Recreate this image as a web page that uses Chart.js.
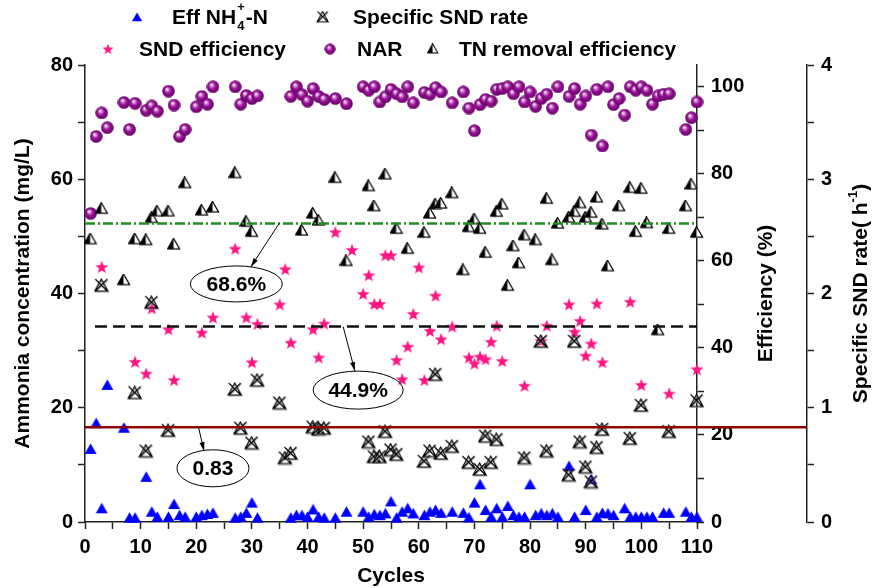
<!DOCTYPE html>
<html lang="en">
<head>
<meta charset="UTF-8">
<title>SND performance over cycles</title>
<script src="https://cdn.jsdelivr.net/npm/chart.js"></script>
<style>
    html, body { margin: 0; padding: 0; background: #fff; }
    #wrap { width: 872px; height: 588px; }
</style>
</head>
<body>
<div id="wrap"><canvas id="sndChart" width="872" height="588"></canvas></div>
<script>
// Eff NH4+-N (mg/L) - left axis
const nh4Cycles = [1,2,3,4,7,8,9,11,12,13,15,16,17,18,20,21,22,23,27,28,29,30,31,37,38,39,40,41,42,43,45,47,50,51,52,53,54,55,56,57,58,59,61,62,63,64,66,68,69,70,71,72,73,74,75,76,77,78,79,80,81,82,83,84,85,87,88,90,91,92,93,94,95,97,98,99,100,101,102,104,105,108,109,110];
const nh4Values = [12.8,17.3,2.4,24.0,16.5,0.75,0.75,7.9,1.8,0.9,0.9,3.15,1.2,0.9,0.9,1.2,1.4,1.6,0.75,0.9,1.6,3.4,0.75,0.75,1.2,1.2,0.9,2.2,0.9,0.75,0.75,1.8,1.8,0.9,1.35,1.2,1.5,3.6,0.75,1.8,2.4,1.5,1.2,1.8,2.1,1.6,1.8,1.6,0.8,3.4,6.6,2.1,0.9,2.4,0.9,2.8,1.2,0.9,0.9,6.6,1.2,1.5,1.2,1.5,0.9,9.8,0.9,2.1,7.5,0.9,1.6,1.5,1.2,2.4,0.9,0.9,0.9,0.9,0.9,1.6,1.6,1.8,0.9,0.9];

// Specific SND rate (h-1) - outer right axis
const rateCycles = [3,9,11,12,15,27,28,30,31,35,36,37,41,42,43,51,52,53,54,55,56,61,62,63,64,66,69,71,72,73,74,79,82,83,87,88,89,90,91,92,93,98,100,105,110];
const rateValues = [2.07,1.13,0.62,1.92,0.80,1.16,0.82,0.69,1.24,1.04,0.56,0.60,0.83,0.81,0.82,0.70,0.57,0.57,0.79,0.63,0.59,0.53,0.62,1.29,0.60,0.66,0.52,0.46,0.75,0.52,0.72,0.56,1.58,0.62,0.41,1.58,0.70,0.48,0.35,0.65,0.81,0.73,1.02,0.79,1.06];

// SND efficiency (%)
const sndCycles = [3,9,11,12,15,16,21,23,27,29,30,31,35,36,37,41,42,43,45,48,50,51,52,53,54,55,56,57,58,59,60,61,62,63,64,66,69,70,71,72,73,74,75,79,82,83,87,88,89,90,91,92,93,98,100,105,110];
const sndValues = [58.6,36.8,34.1,49.1,44.3,32.6,43.5,47.0,62.8,47.0,36.7,45.5,50.0,58.1,41.2,44.3,37.8,45.6,66.6,62.5,52.4,56.7,50.1,50.1,61.3,61.3,37.2,32.8,40.3,47.8,58.5,32.6,43.9,52.0,42.0,44.9,37.8,36.4,38.0,37.4,41.4,45.1,37.0,31.3,41.6,45.1,50.0,43.7,46.2,38.2,41.0,50.2,36.7,50.6,31.5,29.5,35.1];

// NAR (%)
const narCycles = [1,2,3,4,7,8,9,11,12,13,15,16,17,18,20,21,22,23,27,28,29,30,31,37,38,39,40,41,42,43,45,47,50,51,52,53,54,55,56,57,58,59,61,62,63,64,66,68,69,70,71,72,73,74,75,76,77,78,79,80,81,82,83,84,85,87,88,89,90,91,92,93,94,95,96,97,98,99,100,101,102,103,104,105,108,109,110];
const narValues = [70.9,88.6,94.0,90.6,96.4,90.2,96.2,94.6,95.6,94.4,99.0,95.8,88.6,90.2,95.4,97.8,96.0,100,100,96.0,98.0,97.3,97.9,97.8,100,98.2,96.7,99.6,97.8,97.1,97.3,96.1,100,99.2,100,96.5,97.7,99.4,98.4,97.7,100,96.3,98.7,98.3,99.8,98.8,96.3,98.8,95.1,89.9,95.9,97.1,96.7,99.4,99.6,100,98.4,100,96.5,98.8,95.5,97.3,98.3,95.1,100,97.8,99.6,96.0,97.9,88.9,99.4,86.4,100,95.9,97.3,93.5,100,99.2,100,99.2,96.0,97.9,98.3,98.4,90.2,92.9,96.5];

// TN removal efficiency (%)
const tnCycles = [1,3,7,9,11,12,13,15,16,18,21,23,27,29,30,39,41,42,45,47,51,52,54,56,58,61,62,63,64,66,68,69,70,71,72,74,75,76,77,78,79,81,83,84,85,87,88,89,90,91,92,93,94,96,98,99,100,101,103,105,108,109,110];
const tnValues = [65.0,72.0,55.6,65.0,64.8,69.9,71.4,71.4,63.8,77.9,71.6,72.3,80.2,69.0,66.7,67.0,70.9,69.3,79.1,60.0,77.2,72.6,79.9,67.4,62.8,66.5,70.9,73.0,73.2,75.6,57.9,67.8,69.6,67.4,61.9,71.3,73.0,54.3,63.4,59.5,65.9,64.8,74.3,60.2,68.6,70.0,71.3,73.3,70.0,71.1,74.6,68.4,58.8,72.6,76.8,66.7,76.6,68.7,44.1,67.4,72.6,77.6,66.5];

// average lines
const avgTN = 68.6;    // %
const avgSND = 44.9;   // %
const avgRate = 0.83;  // h-1

// efficiency axis ticks (axis runs a bit past 100)
const effTicks = [0,10,20,30,40,50,60,70,80,90,100];

const FONT = '"Liberation Sans", Arial, sans-serif';
const bold = px => 'bold ' + px + 'px ' + FONT;
const pts = (xs, ys) => xs.map((c, i) => ({ x: c, y: ys[i] }));

function makeIcon(w, h, draw) {
    const c = document.createElement('canvas');
    c.width = w; c.height = h;
    draw(c.getContext('2d'));
    return c;
}

function triPath(g, ox, oy) {
    g.beginPath();
    g.moveTo(6.5 + ox, 0.5 + oy);
    g.lineTo(12.5 + ox, 11 + oy);
    g.lineTo(0.5 + ox, 11 + oy);
    g.closePath();
}

const blueTri = makeIcon(13, 12, g => {
    g.fillStyle = '#0000ff';
    triPath(g, 0, 0);
    g.fill();
});

const halfTri = makeIcon(14, 13, g => {
    g.fillStyle = '#9a9a9a';
    triPath(g, 1, 1); g.fill();
    g.fillStyle = '#fff';
    triPath(g, 0, 0); g.fill();
    g.fillStyle = '#000';
    g.beginPath(); g.moveTo(6.5, 0.5); g.lineTo(6.5, 11); g.lineTo(0.5, 11); g.closePath(); g.fill();
    g.strokeStyle = '#000'; g.lineWidth = 1.2;
    triPath(g, 0, 0); g.stroke();
});

const crossTri = makeIcon(16, 15, g => {
    const shape = (ox, oy) => {
        g.beginPath();
        g.moveTo(7.5 + ox, 1 + oy); g.lineTo(14 + ox, 13 + oy); g.lineTo(1 + ox, 13 + oy); g.closePath();
        g.moveTo(1.5 + ox, 1 + oy); g.lineTo(13.5 + ox, 13 + oy);
        g.moveTo(13.5 + ox, 1 + oy); g.lineTo(1.5 + ox, 13 + oy);
        g.stroke();
    };
    g.lineWidth = 1.1;
    g.strokeStyle = '#a8a8a8'; shape(0.8, 0.9);
    g.strokeStyle = '#000'; shape(0, 0);
});

const pinkStar = makeIcon(14, 14, g => {
    g.fillStyle = '#ff1482';
    g.beginPath();
    for (let i = 0; i < 10; i++) {
        const r = i % 2 ? 2.8 : 6.8;
        const a = -Math.PI / 2 + i * Math.PI / 5;
        const px = 7 + r * Math.cos(a), py = 7.6 + r * Math.sin(a);
        if (i) g.lineTo(px, py); else g.moveTo(px, py);
    }
    g.closePath();
    g.fill();
});

const purpleBall = makeIcon(13, 13, g => {
    const grad = g.createRadialGradient(4.8, 4.3, 0.2, 6.5, 6.5, 6.4);
    grad.addColorStop(0, '#ffffff');
    grad.addColorStop(0.22, '#d48ad4');
    grad.addColorStop(0.5, '#9a149a');
    grad.addColorStop(1, '#600060');
    g.fillStyle = grad;
    g.beginPath(); g.arc(6.5, 6.5, 6.3, 0, Math.PI * 2); g.fill();
});

function vText(g, txt, cx, cy) {
    g.save();
    g.translate(cx, cy);
    g.rotate(-Math.PI / 2);
    g.textAlign = 'center';
    g.textBaseline = 'middle';
    g.fillText(txt, 0, 0);
    g.restore();
}

function arrow(g, x0, y0, x1, y1) {
    const a = Math.atan2(y1 - y0, x1 - x0);
    g.beginPath(); g.moveTo(x0, y0); g.lineTo(x1, y1); g.stroke();
    g.beginPath();
    g.moveTo(x1, y1);
    g.lineTo(x1 - 9 * Math.cos(a) + 2.5 * Math.sin(a), y1 - 9 * Math.sin(a) - 2.5 * Math.cos(a));
    g.lineTo(x1 - 9 * Math.cos(a) - 2.5 * Math.sin(a), y1 - 9 * Math.sin(a) + 2.5 * Math.cos(a));
    g.closePath(); g.fill();
}

function bubble(g, cx, cy, rx, ry, txt) {
    g.beginPath(); g.ellipse(cx, cy, rx, ry, 0, 0, Math.PI * 2); g.stroke();
    g.font = bold(21); g.textAlign = 'center'; g.textBaseline = 'middle';
    g.fillText(txt, cx, cy + 1);
}

const overlay = {
    id: 'overlay',
    afterDatasetsDraw(chart) {
        const g = chart.ctx;
        const { x, y1, y2 } = chart.scales;
        g.save();
        // TN average (dash-dot green)
        g.strokeStyle = '#1f8f1f'; g.lineWidth = 2.5; g.setLineDash([10, 3, 2, 3]);
        let py = y1.getPixelForValue(avgTN);
        g.beginPath(); g.moveTo(x.getPixelForValue(0), py); g.lineTo(x.getPixelForValue(110), py); g.stroke();
        // SND average (dashed black)
        g.strokeStyle = '#111'; g.setLineDash([12, 6]);
        py = y1.getPixelForValue(avgSND);
        g.beginPath(); g.moveTo(x.getPixelForValue(1.8), py); g.lineTo(x.getPixelForValue(110), py); g.stroke();
        // rate average (solid dark red, running to the outer axis)
        g.strokeStyle = '#8b0000'; g.lineWidth = 2.5; g.setLineDash([]);
        py = y2.getPixelForValue(avgRate);
        g.beginPath(); g.moveTo(x.getPixelForValue(0), py); g.lineTo(y2.left, py); g.stroke();
        g.restore();
    },
    afterDraw(chart) {
        const g = chart.ctx;
        const { x, y, y1, y2 } = chart.scales;
        const area = chart.chartArea;
        g.save();
        g.fillStyle = '#000'; g.strokeStyle = '#000'; g.lineWidth = 1;

        // callouts
        arrow(g, x.getPixelForValue(34.9), y1.getPixelForValue(avgTN), x.getPixelForValue(29.8), y1.getPixelForValue(58.6));
        bubble(g, x.getPixelForValue(27.2), y1.getPixelForValue(54.7), 46, 18, avgTN + '%');
        arrow(g, x.getPixelForValue(46.4), y1.getPixelForValue(avgSND), x.getPixelForValue(48.5), y1.getPixelForValue(34.7));
        bubble(g, x.getPixelForValue(49.1), y1.getPixelForValue(30.3), 45, 19, avgSND + '%');
        arrow(g, x.getPixelForValue(20.4), y2.getPixelForValue(avgRate), x.getPixelForValue(21.4), y2.getPixelForValue(0.62));
        bubble(g, x.getPixelForValue(23.0), y2.getPixelForValue(0.47), 36, 18.5, String(avgRate));

        // axis titles
        const midY = (area.top + area.bottom) / 2;
        g.font = bold(21);
        vText(g, 'Ammonia concentration (mg/L)', 23, midY);
        vText(g, 'Efficiency (%)', 766, midY);
        g.textAlign = 'center'; g.textBaseline = 'middle';
        g.fillText('Cycles', (area.left + area.right) / 2, 576);

        // outer title with superscript
        g.save();
        g.translate(861, midY);
        g.rotate(-Math.PI / 2);
        const partA = 'Specific SND rate( h', partC = ')';
        g.font = bold(21);
        const wA = g.measureText(partA).width, wC = g.measureText(partC).width;
        g.font = bold(13);
        const wB = g.measureText('-1').width;
        let tx = -(wA + wB + wC) / 2;
        g.textAlign = 'left'; g.textBaseline = 'middle';
        g.font = bold(21); g.fillText(partA, tx, 0); tx += wA;
        g.font = bold(13); g.fillText('-1', tx, -8); tx += wB;
        g.font = bold(21); g.fillText(partC, tx, 0);
        g.restore();

        // legend (icons a little smaller than the plotted marks)
        g.textAlign = 'left'; g.textBaseline = 'middle';
        const icon = (img, cx, cy) => {
            const w = img.width * 0.85, h = img.height * 0.85;
            g.drawImage(img, cx - w / 2, cy - h / 2, w, h);
        };
        icon(blueTri, 137, 17);
        g.font = bold(21);
        g.fillText('Eff NH', 172, 18);
        let lx = 172 + g.measureText('Eff NH').width + 1;
        g.font = bold(13);
        g.fillText('4', lx, 26);
        g.fillText('+', lx, 7);
        lx += g.measureText('+').width + 1;
        g.font = bold(21);
        g.fillText('-N', lx, 18);
        icon(crossTri, 323, 17);
        g.fillText('Specific SND rate', 353, 18);
        icon(pinkStar, 108, 49);
        g.fillText('SND efficiency', 139, 50);
        icon(purpleBall, 330, 49);
        g.fillText('NAR', 357, 50);
        icon(halfTri, 433, 49);
        g.fillText('TN removal efficiency', 459, 50);
        g.restore();
    }
};

const tickFont = { family: FONT, size: 20, weight: 'bold' };
const axisBorder = { display: true, color: '#222', width: 1.5 };
const tickGrid = { drawOnChartArea: false, drawTicks: true, tickLength: 7, tickColor: '#222', tickWidth: 1.5 };

const ctx = document.getElementById('sndChart').getContext('2d');
const sndChart = new Chart(ctx, {
    type: 'scatter',
    data: {
        datasets: [
            { label: 'Specific SND rate', data: pts(rateCycles, rateValues), yAxisID: 'y2', pointStyle: crossTri, order: 0 },
            { label: 'SND efficiency', data: pts(sndCycles, sndValues), yAxisID: 'y1', pointStyle: pinkStar, order: 1 },
            { label: 'TN removal efficiency', data: pts(tnCycles, tnValues), yAxisID: 'y1', pointStyle: halfTri, order: 2 },
            { label: 'NAR', data: pts(narCycles, narValues), yAxisID: 'y1', pointStyle: purpleBall, order: 3 },
            { label: 'Eff NH4+-N', data: pts(nh4Cycles, nh4Values), yAxisID: 'y', pointStyle: blueTri, order: 4 }
        ].map(d => Object.assign(d, { pointRadius: 6, clip: false }))
    },
    options: {
        responsive: false,
        animation: false,
        layout: { padding: { top: 65, left: 0, right: 0, bottom: 0 } },
        plugins: { legend: { display: false }, tooltip: { enabled: false } },
        scales: {
            x: {
                type: 'linear', position: 'bottom', min: 0, max: 110,
                ticks: { stepSize: 5, autoSkip: false, maxRotation: 0, color: '#000', font: tickFont, padding: 6,
                         callback: v => v % 10 === 0 ? v : '' },
                grid: tickGrid, border: axisBorder,
                afterFit: s => { s.height = 66; }
            },
            y: {
                position: 'left', min: 0, max: 80,
                ticks: { stepSize: 10, autoSkip: false, color: '#000', font: tickFont, padding: 5,
                         callback: v => v % 20 === 0 ? v : '' },
                grid: tickGrid, border: axisBorder,
                afterFit: s => { s.width = 85; }
            },
            y1: {
                position: 'right', min: 0, max: 105, weight: 0,
                ticks: { autoSkip: false, color: '#000', font: tickFont, padding: 7,
                         callback: v => v % 20 === 0 ? v : '' },
                afterBuildTicks: s => { s.ticks = effTicks.map(v => ({ value: v })); },
                grid: tickGrid, border: axisBorder,
                afterFit: s => { s.width = 110; }
            },
            y2: {
                position: 'right', min: 0, max: 4, weight: 1,
                ticks: { stepSize: 0.5, autoSkip: false, color: '#000', font: tickFont, padding: 7,
                         callback: v => Number.isInteger(v) ? v : '' },
                grid: tickGrid, border: axisBorder,
                afterFit: s => { s.width = 65; }
            }
        }
    },
    plugins: [overlay]
});
</script>
</body>
</html>
